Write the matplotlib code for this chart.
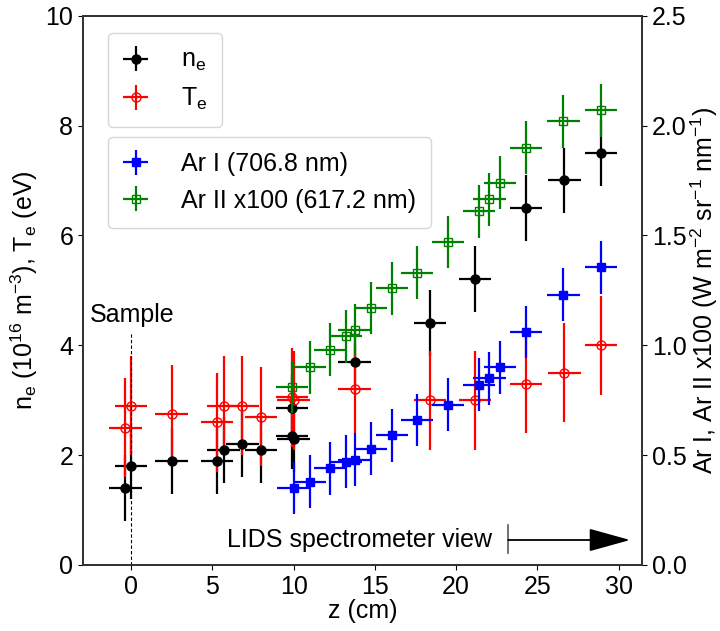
import numpy as np
import matplotlib.pyplot as plt
from matplotlib.patches import ArrowStyle

plt.rcParams['font.family'] = ['Liberation Sans', 'DejaVu Sans']
plt.rcParams['font.size'] = 18
plt.rcParams['mathtext.default'] = 'regular'
plt.rcParams['axes.linewidth'] = 1.3
plt.rcParams['axes.edgecolor'] = '0.2'

# electron density (left axis)
ne_z = [-0.35, 0.0, 2.5, 5.3, 5.7, 6.85, 8.0, 9.9, 9.9, 10.0, 13.75, 18.4, 21.15, 24.3, 26.65, 28.9]
ne = [1.4, 1.8, 1.9, 1.9, 2.1, 2.2, 2.1, 2.85, 2.35, 2.3, 3.7, 4.4, 5.2, 6.5, 7.0, 7.5]
ne_err = [0.6] * len(ne)

# electron temperature (left axis)
te_z = [-0.35, 0.0, 2.5, 5.3, 5.7, 6.85, 8.0, 9.9, 10.0, 13.75, 18.4, 21.15, 24.3, 26.65, 28.9]
te = [2.5, 2.9, 2.75, 2.6, 2.9, 2.9, 2.7, 3.05, 3.0, 3.2, 3.0, 3.0, 3.3, 3.5, 4.0]
te_err = [0.9, 0.9, 0.9, 0.9, 0.9, 0.9, 0.9, 0.9, 0.9, 0.8, 0.9, 0.9, 0.9, 0.9, 0.9]

# Ar I line intensity (right axis)
ar1_z = [10.0, 11.0, 12.25, 13.2, 13.75, 14.75, 16.05, 17.6, 19.5, 21.4, 22.05, 22.7, 24.3, 26.6, 28.9]
ar1 = [0.35, 0.38, 0.44, 0.47, 0.48, 0.53, 0.59, 0.66, 0.73, 0.82, 0.85, 0.90, 1.06, 1.23, 1.355]

# Ar II line intensity x100 (right axis)
ar2_z = [9.9, 11.0, 12.25, 13.2, 13.75, 14.75, 16.05, 17.6, 19.5, 21.4, 22.05, 22.7, 24.3, 26.6, 28.9]
ar2 = [0.81, 0.90, 0.98, 1.04, 1.07, 1.17, 1.26, 1.33, 1.47, 1.61, 1.665, 1.74, 1.90, 2.02, 2.07]

z_err = 1.0
ar_err = 0.12

fig = plt.figure(figsize=(7.2, 6.31), dpi=100)
ax1 = fig.add_axes([0.1153, 0.1046, 0.7768, 0.8705])
ax2 = ax1.twinx()

kw = dict(capsize=0, elinewidth=1.6, linestyle='none')
h_ne = ax1.errorbar(ne_z, ne, xerr=z_err, yerr=ne_err, fmt='o', color='k', ms=6.5, **kw)
h_te = ax1.errorbar(te_z, te, xerr=z_err, yerr=te_err, fmt='o', color='r', ms=6.5,
                    mfc='none', mec='r', mew=1.0, **kw)
h_a1 = ax2.errorbar(ar1_z, ar1, xerr=z_err, yerr=ar_err, fmt='s', color='b', ms=6, **kw)
h_a2 = ax2.errorbar(ar2_z, ar2, xerr=z_err, yerr=ar_err, fmt='s', color='g', ms=6,
                    mfc='none', mec='g', mew=1.0, **kw)

# sample position
ax1.plot([0, 0], [0, 4.2], color='k', lw=0.8, dashes=(3, 2))
ax1.text(0.1, 4.42, 'Sample', ha='center', va='baseline')

# spectrometer view
ax1.text(22.2, 0.33, 'LIDS spectrometer view', ha='right', va='baseline')
ax1.plot([23.2, 23.2], [0.22, 0.73], color='0.35', lw=1.2)
ax1.annotate('', xy=(30.7, 0.455), xytext=(23.2, 0.455),
             arrowprops=dict(arrowstyle=ArrowStyle('-|>', head_length=1.3, head_width=0.36),
                             mutation_scale=20, color='k', lw=1.3, shrinkA=0, shrinkB=0))

ax1.set_xlim(-2.95, 31.45)
ax1.set_ylim(0, 10)
ax2.set_ylim(0, 2.5)
ax1.set_xticks([0, 5, 10, 15, 20, 25, 30])
ax1.set_yticks([0, 2, 4, 6, 8, 10])
ax2.set_yticks([0.0, 0.5, 1.0, 1.5, 2.0, 2.5])

ax1.set_xlabel('z (cm)', labelpad=0)
ax1.set_ylabel(r'n$_e$ (10$^{16}$ m$^{-3}$), T$_e$ (eV)')
ax2.set_ylabel(r'Ar I, Ar II x100 (W m$^{-2}$ sr$^{-1}$ nm$^{-1}$)', labelpad=1)

leg1 = ax2.legend([h_ne, h_te], [r'n$_e$', r'T$_e$'], loc='upper left',
                  bbox_to_anchor=(0.045, 0.968), borderaxespad=0, handlelength=1.0,
                  handletextpad=1.3, borderpad=0.6)
ax2.add_artist(leg1)
ax2.legend([h_a1, h_a2], ['Ar I (706.8 nm)', 'Ar II x100 (617.2 nm)'], loc='upper left',
           bbox_to_anchor=(0.045, 0.779), borderaxespad=0, handlelength=1.0,
           handletextpad=1.3, borderpad=0.6)

plt.savefig('out.png', dpi=100)
